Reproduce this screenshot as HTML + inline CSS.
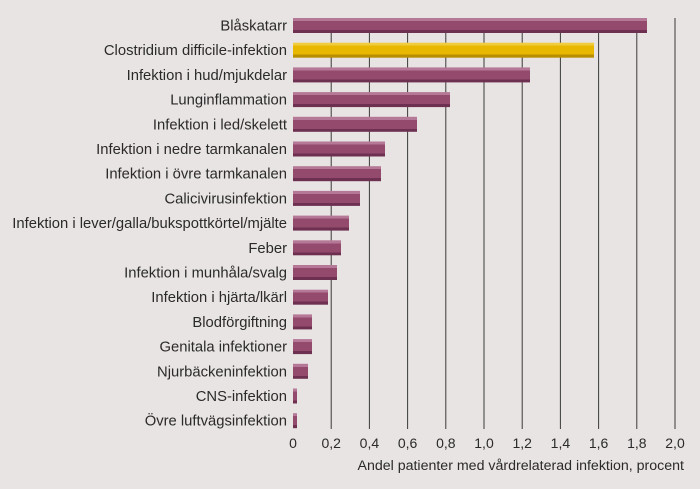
<!DOCTYPE html>
<html><head><meta charset="utf-8"><style>
html,body{margin:0;padding:0;background:#e8e4e3;}
svg{display:block;font-family:"Liberation Sans",sans-serif;}
</style></head><body>
<svg width="700" height="489" viewBox="0 0 700 489" xmlns="http://www.w3.org/2000/svg">
<rect width="700" height="489" fill="#e8e4e3"/>
<g stroke="#3a3a3a" stroke-width="1">
<line x1="331.2" y1="18" x2="331.2" y2="429"/>
<line x1="369.4" y1="18" x2="369.4" y2="429"/>
<line x1="407.6" y1="18" x2="407.6" y2="429"/>
<line x1="445.8" y1="18" x2="445.8" y2="429"/>
<line x1="484" y1="18" x2="484" y2="429"/>
<line x1="522.2" y1="18" x2="522.2" y2="429"/>
<line x1="560.4" y1="18" x2="560.4" y2="429"/>
<line x1="598.6" y1="18" x2="598.6" y2="429"/>
<line x1="636.8" y1="18" x2="636.8" y2="429"/>
<line x1="675" y1="18" x2="675" y2="429"/>
</g>
<defs>
<linearGradient id="p" x1="0" y1="0" x2="0" y2="1">
<stop offset="0" stop-color="#b57896"/><stop offset="0.2" stop-color="#b57896"/>
<stop offset="0.2" stop-color="#944a6c"/><stop offset="0.8" stop-color="#944a6c"/>
<stop offset="0.8" stop-color="#6e3050"/><stop offset="1" stop-color="#6e3050"/>
</linearGradient>
<linearGradient id="y" x1="0" y1="0" x2="0" y2="1">
<stop offset="0" stop-color="#f2cc40"/><stop offset="0.2" stop-color="#f2cc40"/>
<stop offset="0.2" stop-color="#e8b800"/><stop offset="0.8" stop-color="#e8b800"/>
<stop offset="0.8" stop-color="#b98f00"/><stop offset="1" stop-color="#b98f00"/>
</linearGradient>
</defs>
<g>
<rect x="293" y="18" width="354" height="15" fill="url(#p)"/>
<rect x="293" y="42.7" width="301" height="15" fill="url(#y)"/>
<rect x="293" y="67.4" width="237" height="15" fill="url(#p)"/>
<rect x="293" y="92.1" width="157" height="15" fill="url(#p)"/>
<rect x="293" y="116.8" width="124" height="15" fill="url(#p)"/>
<rect x="293" y="141.5" width="92" height="15" fill="url(#p)"/>
<rect x="293" y="166.2" width="88" height="15" fill="url(#p)"/>
<rect x="293" y="190.9" width="67" height="15" fill="url(#p)"/>
<rect x="293" y="215.6" width="56" height="15" fill="url(#p)"/>
<rect x="293" y="240.3" width="48" height="15" fill="url(#p)"/>
<rect x="293" y="265" width="44" height="15" fill="url(#p)"/>
<rect x="293" y="289.7" width="35" height="15" fill="url(#p)"/>
<rect x="293" y="314.4" width="19" height="15" fill="url(#p)"/>
<rect x="293" y="339.1" width="19" height="15" fill="url(#p)"/>
<rect x="293" y="363.8" width="15" height="15" fill="url(#p)"/>
<rect x="293" y="388.5" width="4" height="15" fill="url(#p)"/>
<rect x="293" y="413.2" width="4" height="15" fill="url(#p)"/>
</g>
<g font-size="14.8" fill="#2a2a2a" text-anchor="end">
<text x="287" y="30.5">Blåskatarr</text>
<text x="287" y="55.2">Clostridium difficile-infektion</text>
<text x="287" y="79.9">Infektion i hud/mjukdelar</text>
<text x="287" y="104.6">Lunginflammation</text>
<text x="287" y="129.3">Infektion i led/skelett</text>
<text x="287" y="154">Infektion i nedre tarmkanalen</text>
<text x="287" y="178.7">Infektion i övre tarmkanalen</text>
<text x="287" y="203.4">Calicivirusinfektion</text>
<text x="287" y="228.1">Infektion i lever/galla/bukspottkörtel/mjälte</text>
<text x="287" y="252.8">Feber</text>
<text x="287" y="277.5">Infektion i munhåla/svalg</text>
<text x="287" y="302.2">Infektion i hjärta/lkärl</text>
<text x="287" y="326.9">Blodförgiftning</text>
<text x="287" y="351.6">Genitala infektioner</text>
<text x="287" y="376.3">Njurbäckeninfektion</text>
<text x="287" y="401">CNS-infektion</text>
<text x="287" y="425.7">Övre luftvägsinfektion</text>
</g>
<g font-size="14" fill="#2a2a2a" text-anchor="middle">
<text x="293" y="448">0</text>
<text x="331.2" y="448">0,2</text>
<text x="369.4" y="448">0,4</text>
<text x="407.6" y="448">0,6</text>
<text x="445.8" y="448">0,8</text>
<text x="484" y="448">1,0</text>
<text x="522.2" y="448">1,2</text>
<text x="560.4" y="448">1,4</text>
<text x="598.6" y="448">1,6</text>
<text x="636.8" y="448">1,8</text>
<text x="675" y="448">2,0</text>
</g>
<text x="684" y="470" font-size="14.2" fill="#2a2a2a" text-anchor="end">Andel patienter med vårdrelaterad infektion, procent</text>
</svg>
</body></html>
